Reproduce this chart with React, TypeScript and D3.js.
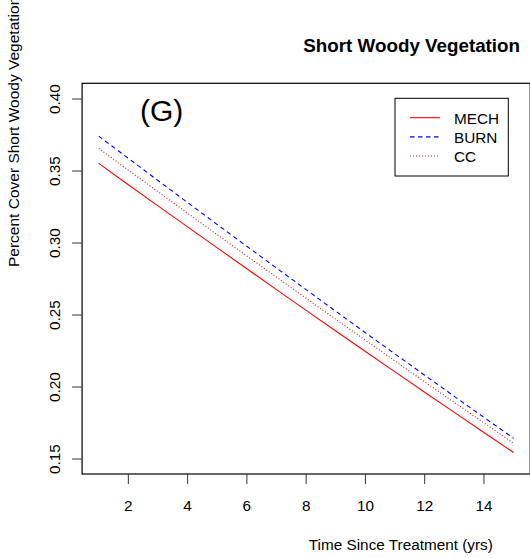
import React from "react";
import * as d3 from "d3";

const years = [1, 2, 3, 4, 5, 6, 7, 8, 9, 10, 11, 12, 13, 14, 15];
const mech = [0.3553, 0.3405, 0.3258, 0.3112, 0.2966, 0.2821, 0.2676, 0.2532, 0.2389, 0.2247, 0.2105, 0.1964, 0.1824, 0.1684, 0.1545];
const burn = [0.3742, 0.3588, 0.3434, 0.3281, 0.3128, 0.2977, 0.2826, 0.2676, 0.2526, 0.2377, 0.2229, 0.2082, 0.1935, 0.1789, 0.1644];
const cc = [0.3657, 0.3506, 0.3356, 0.3207, 0.3058, 0.291, 0.2763, 0.2616, 0.247, 0.2325, 0.218, 0.2036, 0.1893, 0.1751, 0.1609];
const xTicks = [2, 4, 6, 8, 10, 12, 14];
const yTicks = [0.15, 0.2, 0.25, 0.3, 0.35, 0.4];
const seriesNames = ["MECH", "BURN", "CC"];

const W = 530;
const H = 558;
const FONT = "'Liberation Sans', Arial, sans-serif";

export default function App() {
  const x = d3.scaleLinear().domain([1, 15]).range([98.7, 513.6]);
  const y = d3.scaleLinear().domain([0.15, 0.4]).range([459, 99]);
  const box = { left: x(0.44), right: x(15.56), top: 83.3, bottom: 474 };

  const series = [
    { name: seriesNames[0], values: mech, color: "#ff0000", dash: "none" },
    { name: seriesNames[1], values: burn, color: "#0000ff", dash: "4.5,3.5" },
    { name: seriesNames[2], values: cc, color: "#c02020", dash: "1,2" },
  ];

  const line = d3
    .line<number>()
    .x((_, i) => x(years[i]))
    .y((d) => y(d));

  const legend = { x0: 395, y0: 98.3, w: 113.3, h: 77.7 };
  const legendRows = [117.7, 136.9, 156];

  return (
    <svg
      width={W}
      height={H}
      style={{ position: "absolute", left: 0, top: 0, background: "#fff" }}
      fontFamily={FONT}
    >
      <rect x={0} y={0} width={W} height={H} fill="#fff" />
      {/* title */}
      <text x={411.7} y={52.3} textAnchor="middle" fontSize={18.8} fontWeight="bold" fill="#000">
        Short Woody Vegetation
      </text>
      {/* y axis title */}
      <text
        transform={`translate(18.5,267) rotate(-90)`}
        textAnchor="start"
        fontSize={15.5}
        fill="#000"
      >
        Percent Cover Short Woody Vegetation
      </text>
      {/* x axis title */}
      <text x={400.8} y={549.5} textAnchor="middle" fontSize={15.3} fill="#000">
        Time Since Treatment (yrs)
      </text>

      {/* lines */}
      {series.map((s) => (
        <path
          key={s.name}
          d={line(s.values) || ""}
          fill="none"
          stroke={s.color}
          strokeWidth={1.1}
          strokeDasharray={s.dash}
        />
      ))}

      {/* box */}
      <rect
        x={box.left}
        y={box.top}
        width={box.right - box.left}
        height={box.bottom - box.top}
        fill="none"
        stroke="#000"
        strokeWidth={1.2}
      />

      {/* x ticks */}
      {xTicks.map((t) => (
        <g key={"x" + t}>
          <line x1={x(t)} x2={x(t)} y1={box.bottom} y2={box.bottom + 10} stroke="#333" strokeWidth={1} />
          <text x={x(t)} y={511} textAnchor="middle" fontSize={15.3} fill="#000">
            {String(t)}
          </text>
        </g>
      ))}

      {/* y ticks */}
      {yTicks.map((t) => (
        <g key={"y" + t}>
          <line x1={box.left - 10} x2={box.left} y1={y(t)} y2={y(t)} stroke="#333" strokeWidth={1} />
          <text
            transform={`translate(60,${y(t)}) rotate(-90)`}
            textAnchor="middle"
            fontSize={15.3}
            fill="#000"
          >
            {d3.format(".2f")(t)}
          </text>
        </g>
      ))}

      {/* (G) label */}
      <text x={140} y={121} fontSize={30} fill="#000">
        (G)
      </text>

      {/* legend */}
      <rect
        x={legend.x0}
        y={legend.y0}
        width={legend.w}
        height={legend.h}
        fill="#fff"
        stroke="#000"
        strokeWidth={1}
      />
      {series.map((s, i) => (
        <g key={"lg" + s.name}>
          <line
            x1={410}
            x2={440}
            y1={legendRows[i]}
            y2={legendRows[i]}
            stroke={s.color}
            strokeWidth={1.1}
            strokeDasharray={s.dash}
          />
          <text x={454} y={legendRows[i] + 6} fontSize={15.3} fill="#000">
            {s.name}
          </text>
        </g>
      ))}
    </svg>
  );
}
